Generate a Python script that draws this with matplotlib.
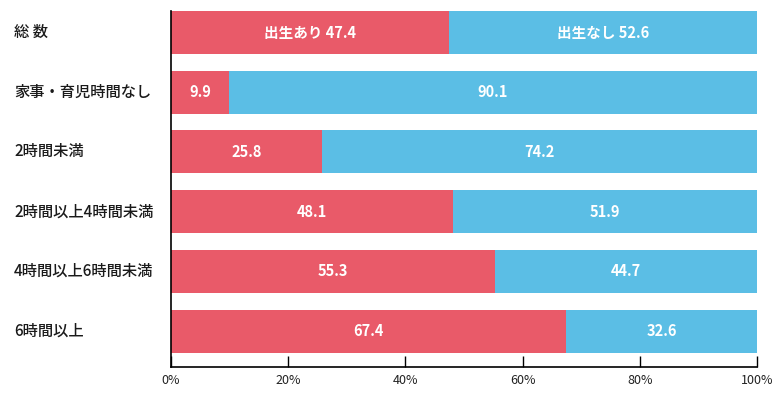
import matplotlib
matplotlib.use("Agg")
import matplotlib.pyplot as plt
import matplotlib.transforms as mtransforms

categories = ["総 数", "家事・育児時間なし", "2時間未満", "2時間以上4時間未満", "4時間以上6時間未満", "6時間以上"]
birth_yes = [47.4, 9.9, 25.8, 48.1, 55.3, 67.4]
birth_no = [52.6, 90.1, 74.2, 51.9, 44.7, 32.6]
series_names = ["出生あり", "出生なし"]
xticks = [0, 20, 40, 60, 80, 100]
xtick_labels = ["0%", "20%", "40%", "60%", "80%", "100%"]

plt.rcParams['font.family'] = ['Noto Sans CJK JP', 'DejaVu Sans']

RED = "#E95A69"
BLUE = "#5BBEE5"

fig = plt.figure(figsize=(7.84, 3.95), dpi=100)
ax = fig.add_axes([171/784, 1-367/395, (757-171)/784, (367-11)/395])

y = list(range(len(categories)))
ax.barh(y, birth_yes, height=0.72, color=RED, linewidth=0)
ax.barh(y, birth_no, left=birth_yes, height=0.72, color=BLUE, linewidth=0)

for i in y:
    a, b = birth_yes[i], birth_no[i]
    la = f"{a:.1f}" if i else f"{series_names[0]} {a:.1f}"
    lb = f"{b:.1f}" if i else f"{series_names[1]} {b:.1f}"
    ax.text(a/2, i, la, ha='center', va='center', color='white', fontsize=10.5, fontweight='bold')
    ax.text(a + b/2, i, lb, ha='center', va='center', color='white', fontsize=10.5, fontweight='bold')

ax.set_xlim(0, 100)
ax.set_ylim(5.6, -0.36)
ax.set_yticks([])
for s in ['top', 'right']:
    ax.spines[s].set_visible(False)
ax.spines['left'].set_linewidth(1.2)
ax.spines['bottom'].set_linewidth(1.2)

ax.set_xticks(xticks)
ax.set_xticklabels(xtick_labels, fontsize=9, color='#222222')
ax.tick_params(axis='x', direction='in', length=8, width=1, pad=5)

trans = mtransforms.blended_transform_factory(fig.transFigure, ax.transData)
for i, c in enumerate(categories):
    fig.text(14/784, i, c, transform=trans, ha='left', va='center', fontsize=11,
             fontweight='medium', color='#1a1a1a')

fig.savefig("out.png", dpi=100)
